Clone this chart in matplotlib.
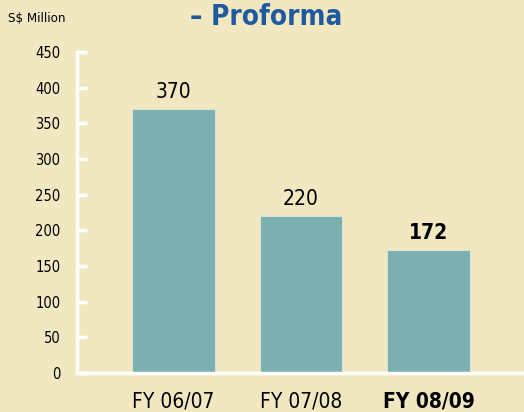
import matplotlib.pyplot as plt

categories = ['FY 06/07', 'FY 07/08', 'FY 08/09']
values = [370, 220, 172]
yticks = [0, 50, 100, 150, 200, 250, 300, 350, 400, 450]

plt.rcParams['font.family'] = ['DejaVu Sans']
plt.rcParams['font.stretch'] = 'condensed'

bg = '#F1E8C2'
bar_color = '#7BAFB0'

fig = plt.figure(figsize=(5.24, 4.12), dpi=100, facecolor=bg)
ax = fig.add_axes([77 / 524, 1 - 373 / 412, 1 - 77 / 524, (373 - 52) / 412])
ax.set_facecolor(bg)

x = range(len(categories))
ax.bar(x, values, width=0.65, color=bar_color, edgecolor='#D8E4D8', linewidth=0.8, zorder=2)

for i, v in enumerate(values):
    weight = 'bold' if i == len(values) - 1 else 'normal'
    ax.annotate(str(v), (i, v), xytext=(0, 5), textcoords='offset points',
                ha='center', va='bottom', fontsize=15, fontweight=weight,
                fontstretch='condensed', color='black')

ax.set_xlim(-0.757, 2.749)
ax.set_ylim(0, 450)
ax.set_yticks(yticks)
ax.set_yticklabels([str(t) for t in yticks], fontsize=10.5, fontstretch='condensed')
ax.set_xticks(list(x))
ax.set_xticklabels(categories, fontsize=15, fontstretch='condensed')
ax.get_xticklabels()[-1].set_fontweight('bold')

for side in ['top', 'right']:
    ax.spines[side].set_visible(False)
for side in ['left', 'bottom']:
    ax.spines[side].set_color('white')
    ax.spines[side].set_linewidth(2.5)

ax.tick_params(axis='y', direction='in', length=7, width=2.5, color='white', pad=12)
ax.tick_params(axis='x', length=0, pad=13)

fig.text(8 / 524, 1 - 19 / 412, 'S$ Million', fontsize=9.5, va='center', ha='left',
         fontstretch='condensed')
fig.text(266 / 524, 1 - 17 / 412, '\u2013 Proforma', fontsize=20, fontweight='bold',
         fontstretch='condensed', color='#1F5AA0', ha='center', va='center')

fig.savefig('out.png', dpi=100, facecolor=bg)
